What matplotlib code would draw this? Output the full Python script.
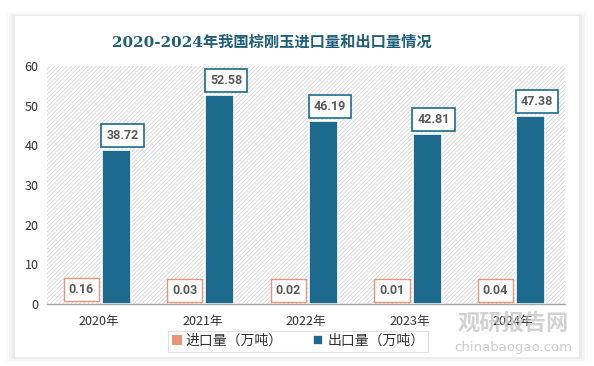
import matplotlib.pyplot as plt
import numpy as np
from matplotlib.patches import Rectangle, FancyBboxPatch

plt.rcParams['font.family'] = ['Noto Sans CJK SC', 'DejaVu Sans']
plt.rcParams['hatch.linewidth'] = 0.6

years = ['2020年', '2021年', '2022年', '2023年', '2024年']
imports = [0.16, 0.03, 0.02, 0.01, 0.04]
exports = [38.72, 52.58, 46.19, 42.81, 47.38]
yticks = [0, 10, 20, 30, 40, 50, 60]
title = '2020-2024年我国棕刚玉进口量和出口量情况'
imp_name = '进口量（万吨）'
exp_name = '出口量（万吨）'

imp_color = '#e8967a'
exp_color = '#1c6b8e'

fig = plt.figure(figsize=(5.94, 3.66), dpi=100)
fig.patch.set_facecolor('white')

# card with soft shadow
for i, a in enumerate([0.015, 0.025, 0.035]):
    d = 0.005 * (3 - i)
    fig.patches.append(FancyBboxPatch((0.025 - d, 0.025 - d), 0.95 + 2 * d, 0.93 + 2 * d,
                                      boxstyle='square,pad=0', transform=fig.transFigure,
                                      facecolor='black', alpha=a, edgecolor='none', zorder=-3))
fig.patches.append(FancyBboxPatch((0.025, 0.025), 0.95, 0.93, boxstyle='square,pad=0',
                                  transform=fig.transFigure, facecolor='white',
                                  edgecolor='none', zorder=-2))

ax = fig.add_axes([0.079, 0.169, 0.872, 0.651])
ax.set_zorder(1)
ax.set_facecolor('none')
ax.add_patch(Rectangle((0, 0), 1, 1, transform=ax.transAxes, facecolor='white',
                       hatch='////////', edgecolor='#d6d6d6', lw=0, zorder=0))

x = np.arange(len(years))
w = 0.28
off = 0.17
b1 = ax.bar(x - off, imports, w, color=imp_color, zorder=2, label=imp_name)
b2 = ax.bar(x + off, exports, w, color=exp_color, zorder=2, label=exp_name,
            edgecolor='white', linewidth=1.2)

lab_font = ['Roboto', 'DejaVu Sans']
for xi, v in zip(x, imports):
    ax.annotate(f'{v:.2f}', (xi - off, v), xytext=(0, 10), textcoords='offset points',
                ha='center', va='center', fontsize=9, fontweight='bold', color='#595959',
                family=lab_font,
                bbox=dict(boxstyle='square,pad=0.4', fc='white', ec=imp_color, lw=1), zorder=5)
for xi, v in zip(x, exports):
    ax.annotate(f'{v:.2f}', (xi + off, v), xytext=(4.5, 10.5), textcoords='offset points',
                ha='center', va='center', fontsize=9, fontweight='bold', color='#595959',
                family=lab_font,
                bbox=dict(boxstyle='square,pad=0.4', fc='white', ec=exp_color, lw=1.2), zorder=5)

ax.set_xlim(-0.5, len(years) - 0.5)
ax.set_ylim(0, 60)
ax.set_yticks(yticks)
ax.set_xticks(x)
ax.set_xticklabels(years)
ax.tick_params(axis='both', length=0, labelsize=9, colors='#333333')
ax.tick_params(axis='x', pad=8)
ax.tick_params(axis='y', pad=6)
for s in ['top', 'right', 'left']:
    ax.spines[s].set_visible(False)
ax.spines['bottom'].set_color('#a6a6a6')
ax.spines['bottom'].set_linewidth(1)

fig.text(0.457, 0.885, title, ha='center', va='center', fontsize=11, fontweight='bold',
         color='#1f5f7a', family=['DejaVu Serif', 'Noto Sans CJK SC'])

leg = fig.legend(handles=[b1, b2], loc='center', bbox_to_anchor=(0.502, 0.068), ncol=2,
                 frameon=True, fontsize=10, handlelength=0.7, handleheight=0.7,
                 handletextpad=0.3, columnspacing=2.2, borderpad=0.25, fancybox=False,
                 borderaxespad=0)
leg.get_frame().set_edgecolor('#d9d9d9')
leg.get_frame().set_linewidth(0.8)
for t in leg.get_texts():
    t.set_color('#333333')

# watermark
fig.text(0.864, 0.115, '观研报告网', ha='center', va='center', fontsize=16, fontweight='bold',
         color='#bfbfbf', alpha=0.7, zorder=10)
fig.text(0.864, 0.05, 'chinabaogao.com', ha='center', va='center', fontsize=9.5,
         color='#bfbfbf', alpha=0.8, zorder=10, family=['DejaVu Sans'])

fig.savefig('out.png', dpi=100)
